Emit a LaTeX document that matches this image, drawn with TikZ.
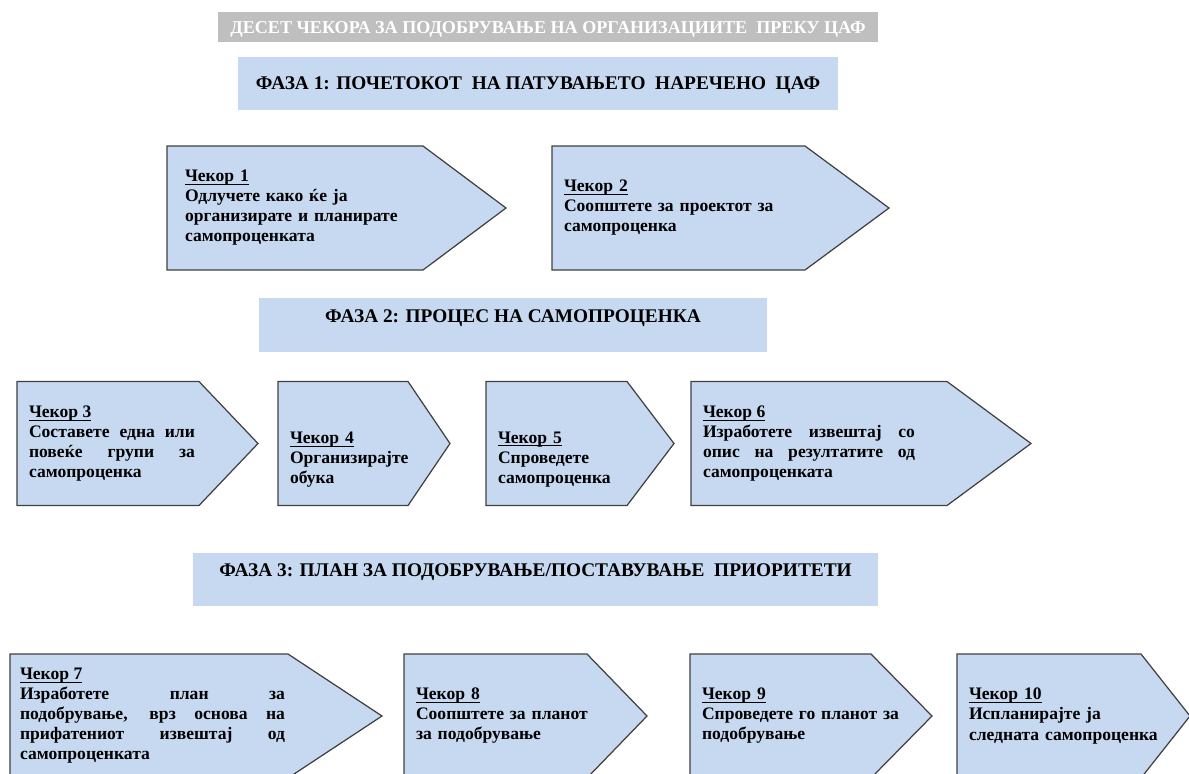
\documentclass[tikz,border=0pt]{standalone}
\usepackage{fontspec}
\setmainfont{Liberation Serif}
\usepackage{tikz}
\usetikzlibrary{positioning}
\usetikzlibrary{backgrounds}
\definecolor{phasecolor}{RGB}{198, 217, 241}
\definecolor{titlecolor}{RGB}{191, 191, 191}
\definecolor{edgecolor}{RGB}{64, 64, 64}
\newcommand{\steptitle}[1]{\underline{\raisebox{0pt}[\height][0.2pt]{#1}}}
\tikzstyle{titlebar} = [
	fill=titlecolor,
	text=white,
	minimum width=13.2cm,
	minimum height=0.6cm,
	text height=0.24cm,
	text depth=0cm,
	font=\fontsize{10.3}{12}\selectfont\bfseries
]
\tikzstyle{phasebox} = [
	fill=phasecolor,
	minimum height=1.07cm,
	text height=0.25cm,
	text depth=0cm,
	font=\fontsize{11}{13}\selectfont\bfseries
]
\tikzstyle{stepbody} = [
	minimum height=2.48cm,
	inner xsep=0.24cm,
	inner ysep=0cm,
	outer sep=0cm,
	font=\fontsize{10}{11.4}\selectfont\bfseries
]
\tikzstyle{stepshape} = [
	draw=edgecolor,
	line width=0.7pt,
	fill=phasecolor
]

\begin{document}
\begin{tikzpicture}
	\useasboundingbox (0,0) rectangle (23.78,-15.46);

	%
	% Headings
	\node[titlebar] (Title) at (10.96,-0.54) {ДЕСЕТ ЧЕКОРА ЗА ПОДОБРУВАЊЕ НА ОРГАНИЗАЦИИТЕ\ \ ПРЕКУ ЦАФ};
	\node[phasebox, minimum width=12cm] (Phase1) at (10.76,-1.67) {ФАЗА 1: ПОЧЕТОКОТ\ \ НА ПАТУВАЊЕТО\ \ НАРЕЧЕНО\ \ ЦАФ};
	\node[phasebox, minimum width=10.16cm, text depth=0.36cm] (Phase2) at (10.26,-6.5) {ФАЗА 2: ПРОЦЕС НА САМОПРОЦЕНКА};
	\node[phasebox, minimum width=13.7cm, text depth=0.36cm] (Phase3) at (10.71,-11.59) {ФАЗА 3: ПЛАН ЗА ПОДОБРУВАЊЕ/ПОСТАВУВАЊЕ\ \ ПРИОРИТЕТИ};

	%
	% Steps in phase 1
	\node[stepbody, inner xsep=0.36cm, text width=4.6cm, align=left, anchor=west] at (3.34,-4.16) (Step1) {\steptitle{Чекор 1}\\Одлучете како ќе ја\\организирате и планирате\\самопроценката};
	\node[stepbody, text width=4.6cm, align=left, right=7.7cm of Step1.west] (Step2) {\steptitle{Чекор 2}\\Соопштете за проектот за\\самопроценка};

	%
	% Steps in phase 2
	\node[stepbody, text width=3.32cm, align=justify, anchor=west] at (0.34,-8.87) (Step3) {\steptitle{Чекор 3}\\Составете една или\linebreak повеќе групи за\linebreak самопроценка};
	\node[stepbody, text width=2.6cm, text depth=0.25cm, align=left, right=5.22cm of Step3.west] (Step4) {\steptitle{Чекор 4}\\Организирајте\\обука};
	\node[stepbody, text width=2.6cm, text depth=0.25cm, align=left, right=4.16cm of Step4.west] (Step5) {\steptitle{Чекор 5}\\Спроведете\\самопроценка};
	\node[stepbody, text width=4.24cm, align=justify, right=4.1cm of Step5.west] (Step6) {\steptitle{Чекор 6}\\Изработете извештај со\linebreak опис на резултатите од\linebreak самопроценката};

	%
	% Steps in phase 3
	\node[stepbody, inner xsep=0.2cm, text width=5.3cm, align=justify, anchor=west] at (0.2,-14.32) (Step7) {\steptitle{Чекор 7}\\Изработете план за\linebreak подобрување, врз основа на\linebreak прифатениот извештај од\linebreak самопроценката};
	\node[stepbody, text width=4cm, align=left, right=7.88cm of Step7.west] (Step8) {\steptitle{Чекор 8}\\Соопштете за планот\\за подобрување};
	\node[stepbody, text width=4cm, align=left, right=5.72cm of Step8.west] (Step9) {\steptitle{Чекор 9}\\Спроведете го планот за\\подобрување};
	\node[stepbody, text width=4cm, align=left, right=5.34cm of Step9.west] (Step10) {\steptitle{Чекор 10}\\Испланирајте ја\\следната самопроценка};

	%
	% Arrow shapes behind the steps (body length / tip position from the left side)
	\begin{scope}[on background layer]
		\foreach \stepname/\bodylen/\tipx in {Step1/5.12/6.78, Step2/5.06/6.74, Step3/3.64/4.82, Step4/2.6/3.44, Step5/2.82/3.76, Step6/5.12/6.8, Step7/5.56/7.44, Step8/3.66/4.86, Step9/3.62/4.84, Step10/3.68/4.66}
			\draw[stepshape] (\stepname.north west) -- ([xshift=\bodylen cm]\stepname.north west) -- ([xshift=\tipx cm]\stepname.west) -- ([xshift=\bodylen cm]\stepname.south west) -- (\stepname.south west) -- cycle;
	\end{scope}
	
\end{tikzpicture}
\end{document}
